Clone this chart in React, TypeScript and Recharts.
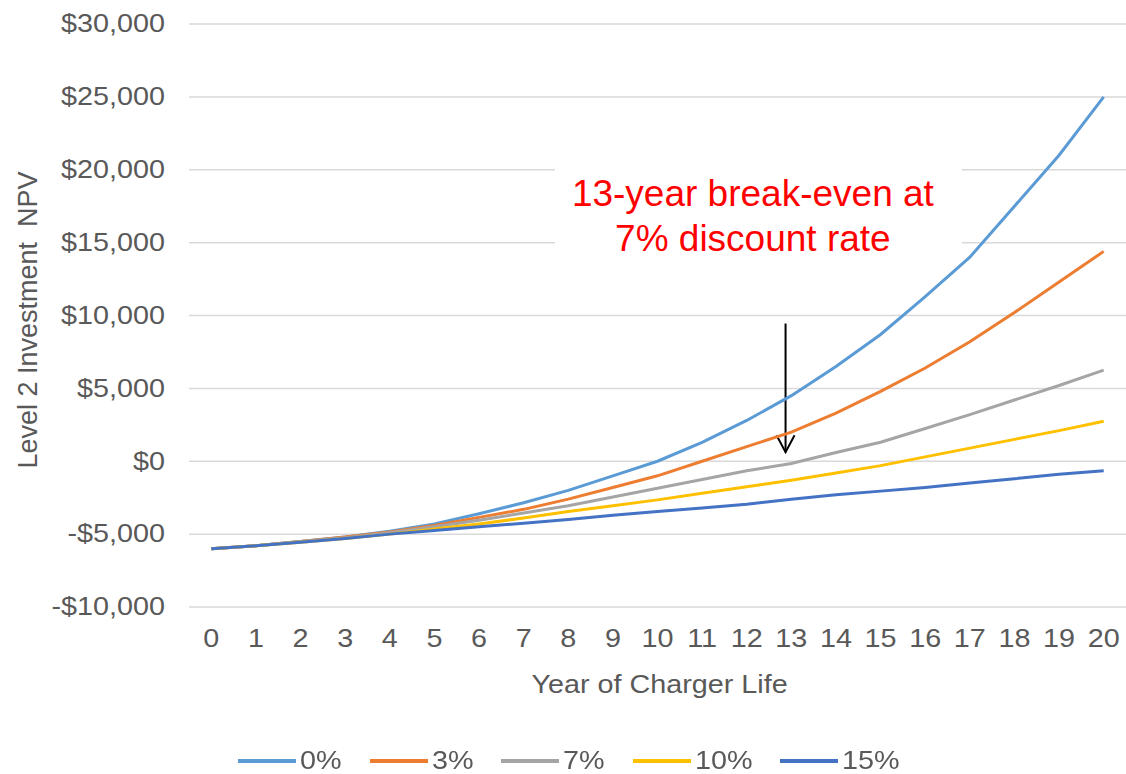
import React from "react";
import {
  LineChart,
  Line,
  XAxis,
  YAxis,
  CartesianGrid,
  Legend,
  ReferenceArea,
  ReferenceLine,
} from "recharts";

const years = [0, 1, 2, 3, 4, 5, 6, 7, 8, 9, 10, 11, 12, 13, 14, 15, 16, 17, 18, 19, 20];
const npv0 = [-6000, -5800, -5500, -5200, -4800, -4300, -3600, -2850, -2000, -1000, 0, 1300, 2800, 4500, 6500, 8700, 11300, 14000, 17500, 21000, 25000];
const npv3 = [-6000, -5800, -5500, -5200, -4850, -4400, -3850, -3300, -2600, -1800, -1000, 0, 1000, 2000, 3300, 4800, 6400, 8200, 10200, 12300, 14400];
const npv7 = [-6000, -5800, -5500, -5250, -4900, -4500, -4050, -3550, -3050, -2450, -1850, -1250, -650, -150, 600, 1300, 2250, 3200, 4200, 5200, 6250];
const npv10 = [-6000, -5800, -5550, -5300, -5000, -4650, -4300, -3900, -3450, -3050, -2650, -2200, -1750, -1300, -800, -300, 300, 900, 1500, 2100, 2750];
const npv15 = [-6000, -5800, -5550, -5300, -5000, -4750, -4500, -4250, -4000, -3700, -3450, -3200, -2950, -2600, -2300, -2050, -1800, -1500, -1200, -900, -650];
const yTicks = [-10000, -5000, 0, 5000, 10000, 15000, 20000, 25000, 30000];

const series = [
  { key: "r0", name: "0%", color: "#5b9bd5", values: npv0 },
  { key: "r3", name: "3%", color: "#ed7d31", values: npv3 },
  { key: "r7", name: "7%", color: "#a5a5a5", values: npv7 },
  { key: "r10", name: "10%", color: "#ffc000", values: npv10 },
  { key: "r15", name: "15%", color: "#4472c4", values: npv15 },
];

const data = years.map((year, i) => {
  const row: { [k: string]: number } = { year };
  series.forEach((s) => (row[s.key] = s.values[i]));
  return row;
});

const FONT = "'Liberation Sans', Arial, sans-serif";
const GREY = "#595959";
const FS = 25;
const STRETCH = 1.15;

const money = (v: number) =>
  (v < 0 ? "-$" : "$") + Math.abs(v).toLocaleString("en-US");

// rough Arial advance widths, used only to lay out the stretched legend text
const emWidth = (s: string) =>
  s.split("").reduce((w, c) => w + (c === "%" ? 0.889 : 0.556), 0);

function YTick({ x, y, payload }: any) {
  return (
    <text
      transform={`translate(${x},${y}) scale(${STRETCH},1)`}
      textAnchor="end"
      dominantBaseline="central"
      fill={GREY}
      fontSize={FS}
      fontFamily={FONT}
    >
      {money(payload.value)}
    </text>
  );
}

function XTick({ x, y, payload }: any) {
  return (
    <text
      transform={`translate(${x},${y + 30}) scale(${STRETCH},1)`}
      textAnchor="middle"
      dominantBaseline="central"
      fill={GREY}
      fontSize={FS}
      fontFamily={FONT}
    >
      {payload.value}
    </text>
  );
}

function Arrow(props: any) {
  const { x1, y1, x2, y2 } = props;
  return (
    <g stroke="#000" strokeWidth={2} fill="none">
      <line x1={x1} y1={y1} x2={x2} y2={y2} />
      <polyline points={`${x2 - 9},${y2 - 17} ${x2},${y2} ${x2 + 9},${y2 - 17}`} />
    </g>
  );
}

function LegendContent() {
  return (
    <div
      style={{
        display: "flex",
        justifyContent: "flex-start",
        alignItems: "center",
        height: 57,
        paddingTop: 30,
        paddingLeft: 238,
        boxSizing: "border-box",
        fontFamily: FONT,
        fontSize: FS,
        color: GREY,
      }}
    >
      {series.map((s) => (
        <div key={s.key} style={{ display: "flex", alignItems: "center", marginRight: 28 }}>
          <svg width={58} height={6}>
            <line x1={0} y1={3} x2={58} y2={3} stroke={s.color} strokeWidth={4} />
          </svg>
          <span
            style={{
              display: "inline-block",
              whiteSpace: "nowrap",
              transform: `scaleX(${STRETCH})`,
              transformOrigin: "left center",
              marginLeft: 4,
              width: emWidth(s.name) * FS * STRETCH,
            }}
          >
            {s.name}
          </span>
        </div>
      ))}
    </div>
  );
}

export default function App() {
  return (
    <div style={{ position: "fixed", left: 0, top: 0, background: "#fff" }}>
      <LineChart width={1126} height={774} data={data} margin={{ top: 24, right: 0, left: 0, bottom: 0 }}>
        <CartesianGrid horizontal vertical={false} stroke="#d9d9d9" strokeWidth={1.5} />
        <XAxis
          dataKey="year"
          type="number"
          domain={[-0.5, 20.5]}
          ticks={years}
          interval={0}
          axisLine={false}
          tickLine={false}
          tickSize={0}
          height={110}
          tick={<XTick />}
          label={{
            content: ({ viewBox }: any) => (
              <text
                transform={`translate(${viewBox.x + viewBox.width / 2 + 2},${viewBox.y + 78}) scale(${STRETCH},1)`}
                textAnchor="middle"
                dominantBaseline="central"
                fill={GREY}
                fontSize={FS}
                fontFamily={FONT}
              >
                Year of Charger Life
              </text>
            ),
          }}
        />
        <YAxis
          type="number"
          domain={[-10000, 30000]}
          ticks={yTicks}
          interval={0}
          width={189}
          axisLine={false}
          tickLine={false}
          tickSize={0}
          tickMargin={24}
          tick={<YTick />}
          label={{
            content: () => (
              <text
                transform="translate(28,320) rotate(-90)"
                textAnchor="middle"
                dominantBaseline="central"
                fill={GREY}
                fontSize={27}
                fontFamily={FONT}
                xmlSpace="preserve"
              >
                Level 2 Investment  NPV
              </text>
            ),
          }}
        />
        <ReferenceArea
          x1={7.7}
          x2={16.82}
          y1={13200}
          y2={21000}
          fill="#fff"
          fillOpacity={1}
          stroke="none"
          ifOverflow="visible"
          label={{
            content: ({ viewBox }: any) => (
              <text fill="#ff0000" fontSize={37} fontFamily={FONT} textAnchor="middle">
                <tspan x={viewBox.x + 198} y={viewBox.y + 51}>13-year break-even at</tspan>
                <tspan x={viewBox.x + 198} y={viewBox.y + 96}>7% discount rate</tspan>
              </text>
            ),
          }}
        />
        <ReferenceLine
          segment={[
            { x: 12.87, y: 9450 },
            { x: 12.87, y: 620 },
          ]}
          ifOverflow="visible"
          shape={<Arrow />}
        />
        {series.map((s) => (
          <Line
            key={s.key}
            dataKey={s.key}
            name={s.name}
            stroke={s.color}
            strokeWidth={3}
            dot={false}
            type="linear"
            isAnimationActive={false}
          />
        ))}
        <Legend verticalAlign="bottom" height={57} content={<LegendContent />} />
      </LineChart>
    </div>
  );
}
